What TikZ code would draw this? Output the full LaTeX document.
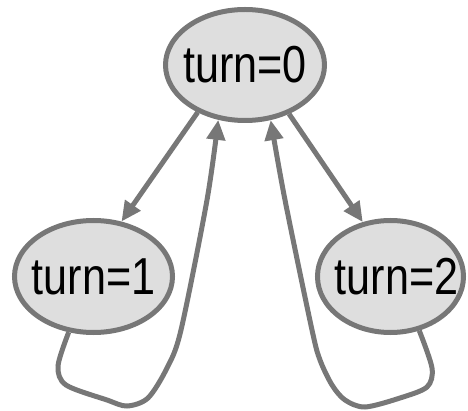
\documentclass[tikz,border=0pt]{standalone}
\usepackage{fontspec}
\setmainfont{Liberation Sans}
\usepackage{graphicx}
\usetikzlibrary{shapes.geometric,arrows.meta}
\definecolor{edgegray}{HTML}{777777}
\definecolor{fillgray}{HTML}{DEDEDE}
\newcommand{\statetext}[2][0pt]{\makebox[0pt]{\hspace*{#1}\fontsize{52}{60}\selectfont\scalebox{0.83}[1]{#2}}}
\tikzset{
  state/.style={ellipse, draw=edgegray, fill=fillgray, line width=5pt, inner sep=0pt, text=black},
  edge/.style={draw=edgegray, line width=5pt, -{Triangle[length=20pt,width=18pt]}},
}
\begin{document}
\begin{tikzpicture}[x=1pt,y=-1pt]
\useasboundingbox (0,0) rectangle (468,411);
\node[state, minimum width=159pt, minimum height=111pt] (t0) at (245,65) {\statetext{turn=0}};
\node[state, minimum width=158pt, minimum height=112pt] (t1) at (93.5,276.5) {\statetext{turn=1}};
\node[state, minimum width=146pt, minimum height=112pt] (t2) at (390.5,276.5) {\statetext[12pt]{turn=2}};
\draw[edge] (t0.225.6) -- (t1.63.2);
\draw[edge] (t0.312.7) -- (t2.117.6);
\draw[edge] plot[smooth, tension=0.5] coordinates {(t1.246.5) (58,366) (66,385) (107,400) (127,406) (148,398) (167,368) (181,330) (207,200) (t0.244.6)};
\draw[edge] plot[smooth, tension=0.5] coordinates {(t2.298) (432,368) (427,387) (400,398) (365,407) (345,400) (332,385) (320,360) (312,330) (285,200) (t0.295)};
\end{tikzpicture}
\end{document}
